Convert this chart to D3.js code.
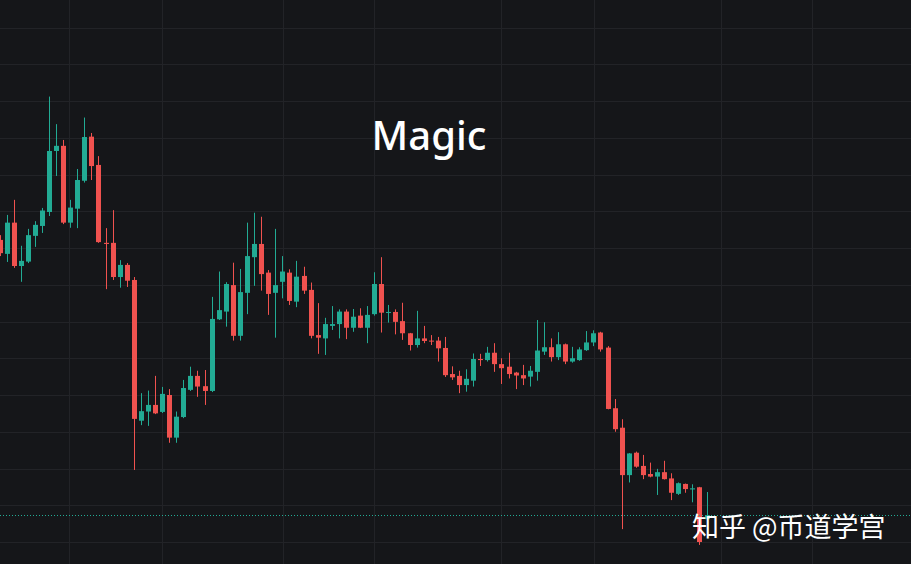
<!DOCTYPE html>
<html>
<head>
<meta charset="utf-8">
<script src="https://cdn.jsdelivr.net/npm/d3@7"></script>
<style>
  html, body { margin: 0; padding: 0; background: #151619; }
  svg { display: block; }
</style>
</head>
<body>
<svg id="chart" width="911" height="564"></svg>
<script>
// ---- data (price units) ----
const title = "Magic";
const watermark = "知乎 @币道学宫";
const candleIndex = d3.range(101);
const open = [1.022,0.984,1.069,0.951,0.963,1.033,1.060,1.098,1.264,1.278,
1.069,1.107,1.183,1.303,1.226,1.014,1.014,0.921,0.954,0.913,
0.530,0.555,0.573,0.554,0.600,0.484,0.540,0.614,0.652,0.624,
0.611,0.806,0.827,0.899,0.761,0.878,0.975,1.011,0.933,0.878,
0.908,0.933,0.854,0.924,0.886,0.763,0.754,0.788,0.793,0.827,
0.783,0.816,0.783,0.820,0.902,0.824,0.826,0.801,0.768,0.736,
0.754,0.748,0.748,0.728,0.657,0.652,0.627,0.639,0.698,0.695,
0.715,0.684,0.677,0.661,0.654,0.650,0.663,0.718,0.730,0.703,
0.738,0.691,0.695,0.722,0.743,0.770,0.729,0.564,0.511,0.382,
0.443,0.407,0.385,0.378,0.390,0.373,0.331,0.358,0.343,0.349,
0.262];
const high = [1.035,1.090,1.131,1.006,1.052,1.073,1.109,1.412,1.337,1.294,
1.131,1.215,1.355,1.313,1.250,1.054,1.103,0.967,0.959,0.921,
0.605,0.612,0.652,0.622,0.616,0.555,0.641,0.677,0.666,0.668,
0.867,0.936,0.907,0.960,0.943,1.069,1.096,1.085,0.940,1.052,
0.978,0.942,0.965,0.949,0.906,0.850,0.810,0.842,0.833,0.833,
0.834,0.836,0.842,0.934,0.975,0.845,0.833,0.851,0.769,0.829,
0.788,0.763,0.758,0.758,0.678,0.666,0.670,0.713,0.712,0.731,
0.741,0.700,0.715,0.663,0.682,0.679,0.804,0.798,0.754,0.771,
0.740,0.731,0.730,0.774,0.776,0.772,0.733,0.589,0.534,0.442,
0.446,0.437,0.416,0.399,0.421,0.387,0.362,0.359,0.357,0.350,
0.336];
const low = [0.978,0.962,0.946,0.908,0.959,1.003,1.041,1.087,1.196,1.065,
1.055,1.054,1.178,1.185,1.014,0.888,0.913,0.892,0.894,0.396,
0.518,0.516,0.548,0.551,0.470,0.470,0.537,0.611,0.595,0.573,
0.608,0.804,0.786,0.748,0.748,0.820,0.897,0.884,0.818,0.756,
0.863,0.845,0.839,0.875,0.754,0.712,0.709,0.777,0.754,0.752,
0.772,0.782,0.741,0.816,0.770,0.797,0.765,0.750,0.721,0.729,
0.741,0.736,0.691,0.649,0.641,0.605,0.609,0.623,0.679,0.691,
0.663,0.630,0.645,0.616,0.627,0.623,0.639,0.709,0.691,0.695,
0.684,0.688,0.693,0.720,0.733,0.718,0.561,0.500,0.235,0.362,
0.402,0.371,0.376,0.328,0.370,0.314,0.328,0.334,0.308,0.192,
0.258];
const close = [0.986,1.069,0.951,0.965,1.035,1.063,1.102,1.264,1.278,1.069,
1.110,1.185,1.302,1.223,1.016,1.011,0.921,0.954,0.911,0.535,
0.556,0.573,0.550,0.603,0.484,0.541,0.619,0.652,0.623,0.611,
0.807,0.831,0.902,0.761,0.880,0.978,1.011,0.929,0.875,0.899,
0.936,0.856,0.922,0.884,0.761,0.756,0.793,0.793,0.827,0.783,
0.813,0.783,0.818,0.902,0.824,0.826,0.799,0.768,0.736,0.754,
0.747,0.746,0.727,0.654,0.648,0.627,0.644,0.698,0.695,0.715,
0.684,0.673,0.657,0.653,0.645,0.666,0.721,0.730,0.703,0.738,
0.691,0.700,0.724,0.743,0.768,0.724,0.562,0.507,0.382,0.441,
0.405,0.382,0.378,0.390,0.371,0.334,0.360,0.344,0.346,0.200,
0.273];
// price grid levels and time grid positions (in candle-index units)
const priceTicks = [0.2,0.3,0.4,0.5,0.6,0.7,0.8,0.9,1.0,1.1,1.2,1.3,1.4,1.5,1.6];
const timeTicks = [9.85, 23.0, 40.1, 53.0, 70.95, 84.1, 102.1, 114.95];

// ---- styles ----
const W = 911, H = 564;
const upColor = "#22ab94", downColor = "#f0524f";
const bg = "#151619", gridColor = "#222327";

const svg = d3.select("#chart");
svg.append("rect").attr("width", W).attr("height", H).attr("fill", bg);

const x = d3.scaleLinear().domain([0, 100]).range([-0.5, 706.5]);
const y = d3.scaleLinear().domain([0.2, 1.6]).range([542, 27.5]);

// grid
const grid = svg.append("g");
grid.selectAll("line.h").data(priceTicks).join("line")
  .attr("x1", 0).attr("x2", W)
  .attr("y1", d => Math.round(y(d)) + 0.5).attr("y2", d => Math.round(y(d)) + 0.5)
  .attr("stroke", gridColor).attr("stroke-width", 1);
grid.selectAll("line.v").data(timeTicks).join("line")
  .attr("y1", 0).attr("y2", H)
  .attr("x1", d => Math.round(x(d)) + 0.5).attr("x2", d => Math.round(x(d)) + 0.5)
  .attr("stroke", gridColor).attr("stroke-width", 1);

// title
svg.append("text").attr("x", 429).attr("y", 150)
  .attr("text-anchor", "middle")
  .attr("font-family", "'Noto Sans', 'Open Sans', sans-serif")
  .attr("font-weight", 500).attr("font-size", 40)
  .attr("fill", "#ffffff").text(title);

// candles
const data = candleIndex.map(i => ({i, o: open[i], h: high[i], l: low[i], c: close[i]}));
const bodyW = 5;
const cg = svg.append("g");
const candle = cg.selectAll("g").data(data).join("g");
candle.append("line")
  .attr("x1", d => Math.round(x(d.i)) + 0.5).attr("x2", d => Math.round(x(d.i)) + 0.5)
  .attr("y1", d => y(d.h)).attr("y2", d => y(d.l))
  .attr("stroke", d => d.c >= d.o ? upColor : downColor).attr("stroke-width", 1);
candle.append("rect")
  .attr("x", d => Math.round(x(d.i)) - 2)
  .attr("width", bodyW)
  .attr("y", d => y(Math.max(d.o, d.c)))
  .attr("height", d => Math.max(1, Math.abs(y(d.o) - y(d.c))))
  .attr("fill", d => d.c >= d.o ? upColor : downColor);

// last price line
const last = close[close.length - 1];
svg.append("line")
  .attr("x1", 0).attr("x2", W)
  .attr("y1", Math.round(y(last)) + 0.5).attr("y2", Math.round(y(last)) + 0.5)
  .attr("stroke", upColor).attr("stroke-width", 1)
  .attr("stroke-dasharray", "1,2");

// watermark
svg.append("text").attr("x", 692).attr("y", 537)
  .attr("font-family", "'Noto Sans CJK SC', sans-serif")
  .attr("font-size", 27).attr("fill", "#ffffff")
  .text(watermark);
</script>
</body>
</html>
